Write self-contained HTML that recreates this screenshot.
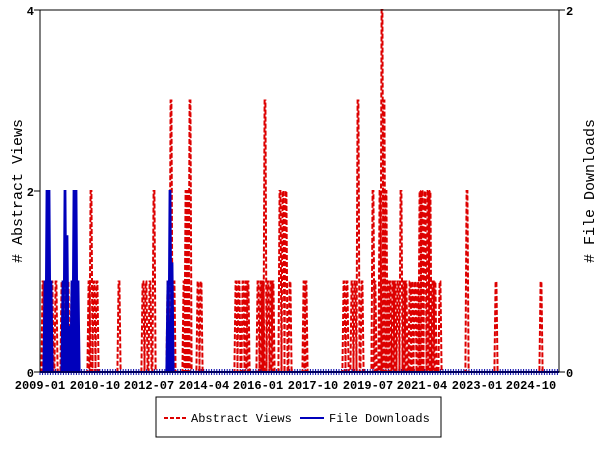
<!DOCTYPE html>
<html><head><style>
body{margin:0;background:#fff;width:600px;height:450px;overflow:hidden}
text{font-family:"Liberation Mono","DejaVu Sans Mono",monospace;font-size:12px;font-weight:bold;fill:#000}
</style></head><body>
<svg id="s" width="600" height="450" xmlns="http://www.w3.org/2000/svg">
<rect x="0" y="0" width="600" height="450" fill="#fff"/>
<g id="plot"></g>
<rect x="40" y="10" width="519" height="362" fill="none" stroke="#000" stroke-width="1"/>
<g stroke="#000">
<line x1="34" y1="10" x2="40" y2="10"/><line x1="34" y1="191" x2="40" y2="191"/><line x1="34" y1="372" x2="40" y2="372"/>
<line x1="559" y1="10" x2="565" y2="10"/><line x1="559" y1="372" x2="565" y2="372"/>
</g>
<text x="34" y="15" text-anchor="end">4</text>
<text x="34" y="196" text-anchor="end">2</text>
<text x="34" y="377" text-anchor="end">0</text>
<text x="566" y="15">2</text>
<text x="566" y="377">0</text>
<g text-anchor="middle">
<text x="40" y="389">2009-01</text><text x="95" y="389">2010-10</text><text x="149" y="389">2012-07</text>
<text x="204" y="389">2014-04</text><text x="258" y="389">2016-01</text><text x="313" y="389">2017-10</text>
<text x="368" y="389">2019-07</text><text x="422" y="389">2021-04</text><text x="477" y="389">2023-01</text>
<text x="531" y="389">2024-10</text>
</g>
<text transform="translate(22,191) rotate(-90)" text-anchor="middle" style="font-size:15px;font-weight:normal">#  Abstract Views</text>
<text transform="translate(594,191) rotate(-90)" text-anchor="middle" style="font-size:15px;font-weight:normal">#  File Downloads</text>
<rect x="156" y="397" width="285" height="40" fill="#fff" stroke="#000"/>
<line x1="164" y1="418" x2="186" y2="418" stroke="#d00" stroke-width="2" stroke-dasharray="4,2"/>
<text x="191" y="422" style="font-size:12px;font-weight:normal">Abstract Views</text>
<line x1="300" y1="418" x2="324" y2="418" stroke="#00b" stroke-width="2"/>
<text x="329" y="422" style="font-size:12px;font-weight:normal">File Downloads</text>
</svg>
<script>
var red=[[43,1],[45,1],[48,1],[52,1],[56,1],[62,1],[65,1],[68,1],[72,1],[77,1],[89,1],[91,2],[94,1],[97,1],[119,1],[143,1],[146,1],[150,1],[154,2],[168,1],[171,3],[174,1],[184,1],[186,2],[188,2],[190,3],[198,1],[201,1],[236,1],[239,1],[243,1],[246,1],[248,1],[258,1],[261,1],[263,1],[265,3],[268,1],[271,1],[273,1],[280,2],[283,2],[286,2],[290,1],[304,1],[306,1],[344,1],[347,1],[352,1],[355,1],[358,3],[362,1],[373,2],[375,1],[380,2],[382,4],[384,3],[386,2],[388,1],[390,1],[393,1],[395,1],[398,1],[401,2],[404,1],[406,1],[410,1],[412,1],[415,1],[418,1],[420,2],[422,2],[425,2],[428,2],[430,2],[433,1],[435,1],[440,1],[467,2],[496,1],[541,1]];
var blue=[[45,1],[47,2],[49,2],[51,1],[63,1],[65,2],[67,1.5],[69,0.5],[72,1],[74,2],[76,2],[78,1],[168,1],[170,2],[172,1.2]];
var g=document.getElementById('plot'),ns='http://www.w3.org/2000/svg';
function path(arr,scale,w){var d='M40,372';arr.forEach(function(p){d+=' L'+(p[0]-w)+',372 L'+(p[0]-0.4)+','+(372-p[1]*scale)+' L'+(p[0]+0.4)+','+(372-p[1]*scale)+' L'+(p[0]+w)+',372';});d+=' L559,372';return d;}
var t='';for(var x=40;x<=559;x+=2.6){t+='M'+x.toFixed(1)+',369 V375 ';}
var tk=document.createElementNS(ns,'path');tk.setAttribute('d',t);tk.setAttribute('stroke','#00a');tk.setAttribute('stroke-width','1');g.appendChild(tk);
var r=document.createElementNS(ns,'path');r.setAttribute('d',path(red,90.5,1.6));r.setAttribute('fill','none');r.setAttribute('stroke','#d00');r.setAttribute('stroke-width','2');r.setAttribute('stroke-dasharray','5,2');g.appendChild(r);
var b=document.createElementNS(ns,'path');b.setAttribute('d',path(blue,90.5,1.6));b.setAttribute('fill','none');b.setAttribute('stroke','#00b');b.setAttribute('stroke-width','2');g.appendChild(b);
var bl=document.createElementNS(ns,'line');bl.setAttribute('x1','40');bl.setAttribute('x2','559');bl.setAttribute('y1','372');bl.setAttribute('y2','372');bl.setAttribute('stroke','#00b');bl.setAttribute('stroke-width','2');g.appendChild(bl);
</script>
</body></html>
